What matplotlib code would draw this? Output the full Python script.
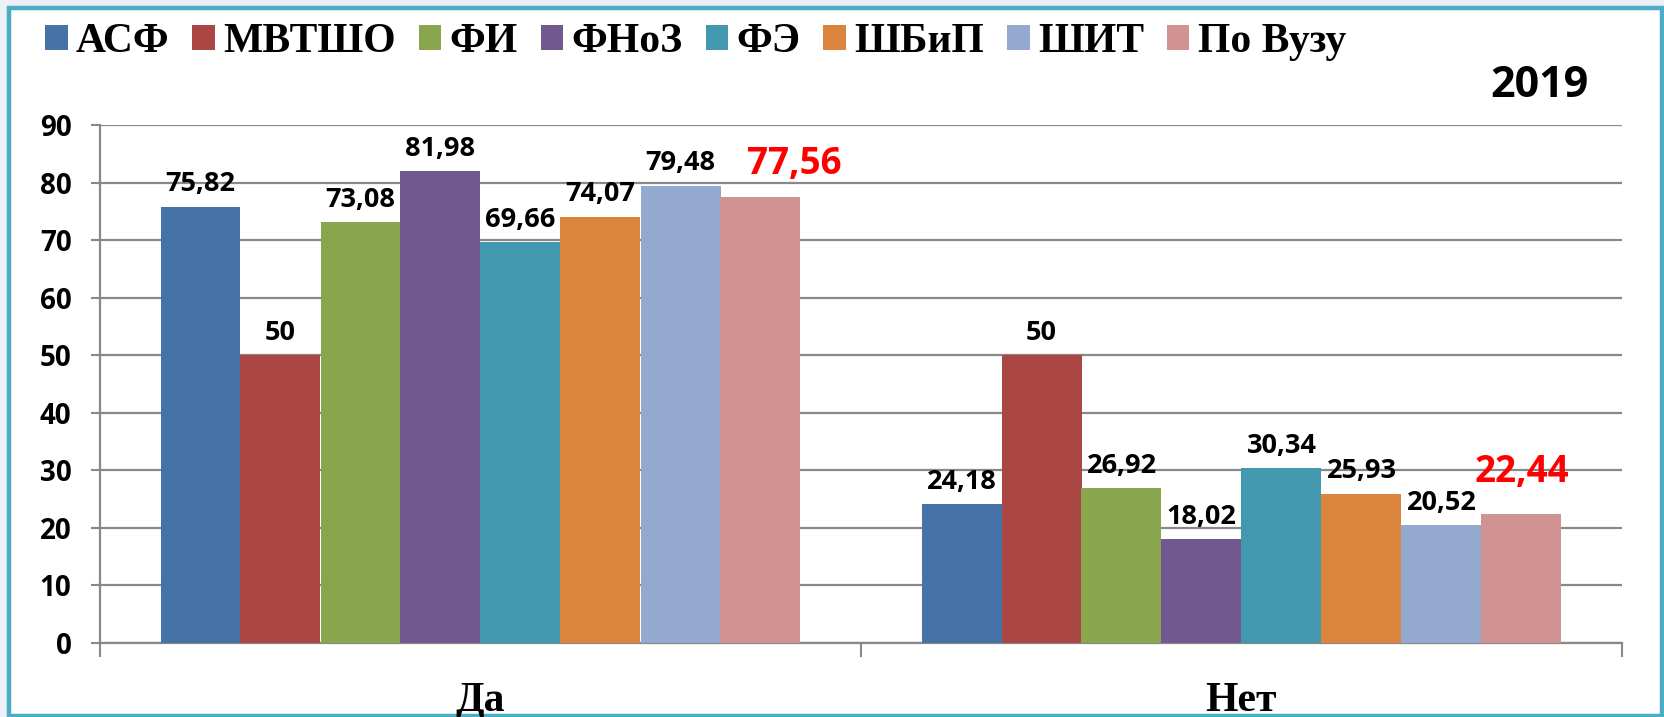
import matplotlib
matplotlib.use("Agg")
import matplotlib.pyplot as plt
from matplotlib.patches import Patch, Rectangle
import numpy as np

categories = ["Да", "Нет"]
series_names = ["АСФ", "МВТШО", "ФИ", "ФНоЗ", "ФЭ", "ШБиП", "ШИТ", "По Вузу"]
values = {
    "АСФ": [75.82, 24.18],
    "МВТШО": [50, 50],
    "ФИ": [73.08, 26.92],
    "ФНоЗ": [81.98, 18.02],
    "ФЭ": [69.66, 30.34],
    "ШБиП": [74.07, 25.93],
    "ШИТ": [79.48, 20.52],
    "По Вузу": [77.56, 22.44],
}
labels = {
    "АСФ": ["75,82", "24,18"],
    "МВТШО": ["50", "50"],
    "ФИ": ["73,08", "26,92"],
    "ФНоЗ": ["81,98", "18,02"],
    "ФЭ": ["69,66", "30,34"],
    "ШБиП": ["74,07", "25,93"],
    "ШИТ": ["79,48", "20,52"],
    "По Вузу": ["77,56", "22,44"],
}
colors = ["#4572A7", "#AA4643", "#89A54E", "#71588F", "#4198AF", "#DB843D", "#93A9CF", "#D19392"]
yticks = [0, 10, 20, 30, 40, 50, 60, 70, 80, 90]
year = "2019"

# label offsets (points) for the highlighted total series, one per category
total_label_offsets = [(24, 16), (0, 23)]

W, H = 1665, 717
fig = plt.figure(figsize=(W / 100, H / 100), dpi=100)
fig.patch.set_facecolor("#EEF0F7")
fig.patches.append(Rectangle((9.5 / W, 1.5 / H), (1662 - 9.5) / W, (709 - 1.5) / H,
                             transform=fig.transFigure, facecolor="white",
                             edgecolor="#4BACC6", linewidth=3.2, zorder=-10))

ax = fig.add_axes([100 / W, (717 - 643) / H, 1522 / W, (643 - 125) / H])
ax.set_facecolor("none")

n = len(series_names)
bw = 80 / 761
x = np.arange(len(categories))
grid_c = "#888888"
for i, name in enumerate(series_names):
    xs = x + (i - (n - 1) / 2) * bw
    ax.bar(xs, values[name], width=bw, color=colors[i], zorder=3, linewidth=0)
    for k, (xi, v, lab) in enumerate(zip(xs, values[name], labels[name])):
        if name == "По Вузу":
            ax.annotate(lab, (xi, v), xytext=total_label_offsets[k], textcoords="offset points",
                        ha="center", va="baseline", fontsize=26.5, fontweight="bold",
                        color="#FF0000", family="Open Sans", zorder=5)
        else:
            ax.annotate(lab, (xi, v), xytext=(0, 11), textcoords="offset points",
                        ha="center", va="baseline", fontsize=19.5, fontweight="bold",
                        color="black", family="Open Sans", zorder=5)

ax.set_ylim(0, 90)
ax.set_xlim(-0.5, 1.5)
ax.set_yticks(yticks)
ax.set_yticklabels([str(t) for t in yticks], fontsize=20, fontweight="bold", family="Open Sans")
ax.yaxis.grid(True, color=grid_c, linewidth=1.6, zorder=0)
ax.set_axisbelow(True)
ax.tick_params(axis="y", length=6.5, width=1.5, color=grid_c, pad=14)

ax.set_xticks(x)
ax.set_xticklabels(categories, fontsize=30, fontweight="bold", family="Liberation Serif")
ax.tick_params(axis="x", which="major", length=0, pad=28)
ax.set_xticks([-0.5, 0.5, 1.5], minor=True)
ax.tick_params(axis="x", which="minor", length=10, width=1.5, color=grid_c)

for s in ["top", "right"]:
    ax.spines[s].set_visible(False)
for s in ["left", "bottom"]:
    ax.spines[s].set_color(grid_c)
    ax.spines[s].set_linewidth(1.6)

handles = [Patch(facecolor=c, edgecolor="none") for c in colors]
fig.legend(handles, series_names, loc="upper left", bbox_to_anchor=(45 / W, 1 - 23 / H),
           ncol=n, frameon=False, prop={"family": "Liberation Serif", "weight": "bold", "size": 30},
           handlelength=0.54, handleheight=0.54, handletextpad=0.2, columnspacing=0.55,
           borderaxespad=0, borderpad=0)

fig.text(1589 / W, 1 - 97 / H, year, ha="right", va="baseline", fontsize=31,
         fontweight="bold", family="Open Sans")

fig.savefig("out.png", dpi=100, facecolor=fig.get_facecolor())
